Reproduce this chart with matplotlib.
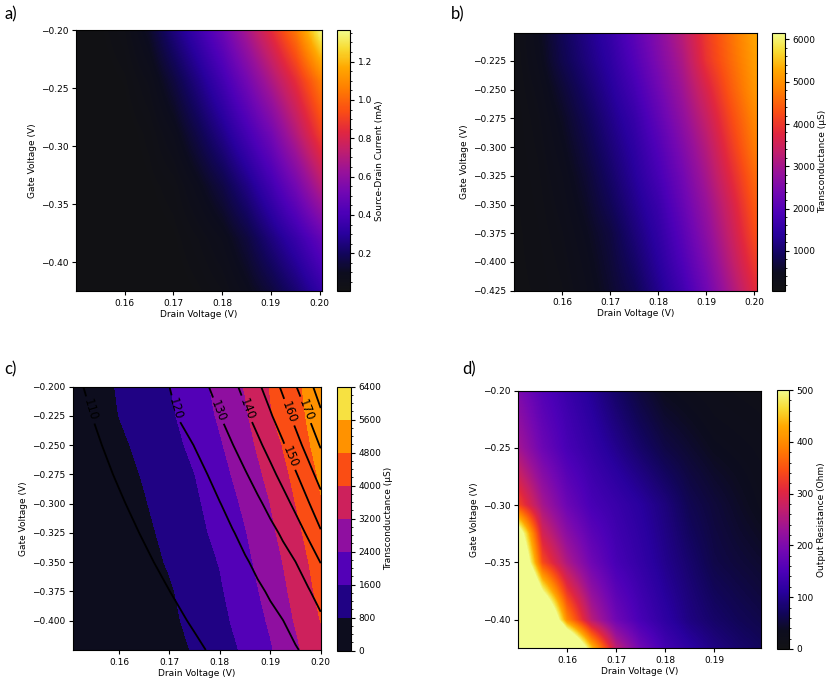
import numpy as np
import matplotlib
matplotlib.use("Agg")
import matplotlib.pyplot as plt
from matplotlib.colors import LinearSegmentedColormap, Normalize

# ---------------- data ----------------
# drain voltage grid (V)
drain = [0.150, 0.155, 0.160, 0.165, 0.170, 0.175, 0.180, 0.185, 0.190, 0.195, 0.200]

# a) source-drain current (mA)
gate_a = [-0.425, -0.380, -0.335, -0.290, -0.245, -0.200]
current_ma = [
    [0.00, 0.00, 0.00, 0.00, 0.000, 0.015, 0.04, 0.09, 0.15, 0.23, 0.33],
    [0.00, 0.00, 0.00, 0.00, 0.010, 0.040, 0.08, 0.15, 0.25, 0.35, 0.47],
    [0.00, 0.00, 0.00, 0.01, 0.030, 0.090, 0.16, 0.26, 0.38, 0.52, 0.70],
    [0.00, 0.00, 0.00, 0.025, 0.080, 0.170, 0.27, 0.39, 0.52, 0.70, 0.90],
    [0.00, 0.00, 0.015, 0.06, 0.150, 0.260, 0.38, 0.52, 0.68, 0.85, 1.05],
    [0.00, 0.01, 0.040, 0.12, 0.250, 0.370, 0.50, 0.67, 0.85, 1.05, 1.35],
]

# b) and c) transconductance (uS)
gate_g = [-0.425, -0.400, -0.375, -0.350, -0.325, -0.300, -0.275, -0.250, -0.225, -0.200]
transcond_us = [
    [100, 130, 210, 370, 600, 850, 1267, 1719, 2316, 3049, 3782],
    [100, 145, 240, 420, 660, 983, 1400, 1901, 2506, 3260, 4015],
    [100, 160, 280, 480, 720, 1112, 1512, 2052, 2686, 3424, 4224],
    [105, 180, 330, 560, 868, 1245, 1634, 2206, 2840, 3576, 4384],
    [110, 200, 380, 640, 989, 1366, 1808, 2356, 3024, 3792, 4555],
    [115, 230, 450, 750, 1105, 1469, 1956, 2533, 3200, 4000, 4755],
    [120, 260, 530, 859, 1226, 1593, 2137, 2730, 3412, 4196, 4900],
    [130, 320, 650, 1000, 1357, 1775, 2323, 2913, 3652, 4400, 5070],
    [140, 400, 807, 1143, 1479, 1951, 2504, 3084, 3944, 4561, 5160],
    [150, 450, 877, 1228, 1579, 2082, 2630, 3248, 4036, 4642, 5250],
]

# c) overlaid contour quantity (labelled lines)
drain_c = [0.150, 0.155, 0.160, 0.165, 0.170, 0.175, 0.1775, 0.180, 0.1825,
           0.185, 0.1875, 0.190, 0.1925, 0.195, 0.1975, 0.200]
gate_c = [-0.425, -0.400, -0.375, -0.350, -0.325, -0.300, -0.275, -0.250, -0.225, -0.200]
contour_vals = [
    [95.61, 98.25, 100.90, 103.54, 106.19, 108.84, 110.16, 111.48, 112.80, 114.13, 115.45, 116.77, 118.10, 119.42, 121.63, 124.53],
    [97.76, 100.37, 102.97, 105.57, 108.18, 110.78, 112.08, 113.39, 114.69, 115.99, 117.29, 118.59, 119.90, 122.61, 125.45, 128.30],
    [99.59, 102.18, 104.77, 107.36, 109.95, 112.54, 113.83, 115.13, 116.42, 117.72, 119.01, 120.67, 123.48, 126.29, 129.10, 133.86],
    [101.29, 103.87, 106.44, 109.02, 111.60, 114.18, 115.46, 116.75, 118.04, 119.33, 121.36, 124.20, 127.05, 129.89, 135.00, 140.21],
    [102.75, 105.34, 107.93, 110.52, 113.11, 115.70, 116.99, 118.29, 119.58, 121.98, 124.88, 127.79, 131.15, 135.96, 141.25, 149.06],
    [104.08, 106.70, 109.32, 111.94, 114.56, 117.17, 118.48, 119.79, 122.53, 125.54, 128.55, 132.32, 136.79, 142.00, 149.14, 156.47],
    [105.32, 107.98, 110.64, 113.30, 115.96, 118.62, 119.95, 123.00, 126.13, 129.25, 133.28, 137.59, 142.75, 149.00, 156.36, 163.82],
    [106.39, 109.13, 111.86, 114.59, 117.32, 120.13, 123.33, 126.54, 129.74, 133.90, 138.14, 143.18, 148.86, 156.25, 163.61, 170.74],
    [107.42, 110.22, 113.03, 115.84, 118.65, 123.38, 126.62, 129.87, 134.07, 138.31, 143.33, 148.89, 155.71, 162.86, 170.00, 178.33],
    [108.30, 111.23, 114.15, 117.08, 120.00, 126.33, 129.49, 133.56, 137.80, 142.67, 148.22, 154.72, 161.82, 169.39, 176.97, 184.55],
]
contour_levels = [110, 120, 130, 140, 150, 160, 170, 180]

# d) output resistance (Ohm)
gate_d = [-0.425, -0.400, -0.375, -0.350, -0.325, -0.300, -0.275, -0.250, -0.225, -0.200]
resist_ohm = [
    [1500, 1100, 700, 450, 267, 188, 140, 115, 94, 80, 70],
    [1000, 700, 400, 260, 186, 145, 117, 93, 78, 68, 60],
    [800, 500, 320, 222, 165, 134, 108, 87, 69, 60, 52],
    [650, 342, 250, 186, 145, 123, 100, 80, 60, 52, 45],
    [560, 290, 215, 166, 137, 117, 95, 72, 56, 46, 38],
    [340, 243, 183, 146, 129, 111, 90, 65, 52, 41, 31],
    [285, 213, 164, 135, 115, 95, 74, 56, 44, 36, 28],
    [240, 183, 145, 123, 100, 78, 58, 46, 35, 30, 25],
    [220, 170, 138, 114, 88, 65, 46, 37, 28, 24, 20],
    [200, 158, 130, 105, 77, 53, 35, 28, 22, 18, 15],
]

# ---------------- style ----------------
cmap = LinearSegmentedColormap.from_list("fet", [
    (0.00, (0.07, 0.07, 0.08)),
    (0.07, (0.05, 0.05, 0.12)),
    (0.14, (0.07, 0.02, 0.36)),
    (0.22, (0.16, 0.00, 0.62)),
    (0.30, (0.30, 0.00, 0.72)),
    (0.38, (0.45, 0.03, 0.70)),
    (0.46, (0.60, 0.07, 0.60)),
    (0.54, (0.76, 0.12, 0.42)),
    (0.61, (0.88, 0.15, 0.25)),
    (0.69, (0.98, 0.30, 0.08)),
    (0.78, (1.00, 0.50, 0.00)),
    (0.86, (1.00, 0.66, 0.00)),
    (0.93, (0.97, 0.86, 0.20)),
    (1.00, (0.95, 0.99, 0.55)),
])

FS = 6.5
plt.rcParams.update({
    "font.family": "DejaVu Sans",
    "font.size": FS,
    "xtick.labelsize": FS,
    "ytick.labelsize": FS,
    "axes.labelsize": FS,
    "axes.linewidth": 0.8,
    "xtick.major.size": 3,
    "ytick.major.size": 3,
    "xtick.major.pad": 2.5,
    "ytick.major.pad": 2.5,
})

W, H = 830, 685
fig = plt.figure(figsize=(W / 100, H / 100), dpi=100)


def rect(l, t, r, b):
    return [l / W, 1 - b / H, (r - l) / W, (b - t) / H]


def show_grid(ax, x, y, z, norm):
    x = np.asarray(x); y = np.asarray(y)
    dx = x[1] - x[0]; dy = y[1] - y[0]
    im = ax.imshow(np.asarray(z, float), origin="lower", aspect="auto",
                   extent=[x[0] - dx / 2, x[-1] + dx / 2, y[0] - dy / 2, y[-1] + dy / 2],
                   cmap=cmap, norm=norm, interpolation="bilinear",
                   interpolation_stage="data")
    return im


def finish(ax, xlim, ylim, yticks, yfmt):
    ax.set_xlim(*xlim)
    ax.set_ylim(*ylim)
    ax.set_yticks(yticks)
    ax.set_yticklabels([("\u2212" + yfmt % abs(v)) for v in yticks])
    ax.set_xlabel("Drain Voltage (V)", labelpad=1.5)
    ax.set_ylabel("Gate Voltage (V)", labelpad=3)


def colorbar(mappable, cax, label, ticks):
    cb = fig.colorbar(mappable, cax=cax)
    cb.set_ticks(ticks)
    cb.ax.minorticks_on()
    cb.ax.tick_params(which="minor", length=1.5)
    cb.ax.tick_params(which="major", length=3, labelsize=FS, pad=2.5)
    cb.set_label(label, fontsize=FS, labelpad=2)
    cb.outline.set_linewidth(0.8)
    return cb


# ---- a ----
ax_a = fig.add_axes(rect(76, 30, 322, 291))
im_a = show_grid(ax_a, drain, gate_a, current_ma, Normalize(0.003, 1.365))
finish(ax_a, (0.150, 0.2005), (-0.425, -0.200),
       [-0.20, -0.25, -0.30, -0.35, -0.40], "%.2f")
ax_a.set_xticks([0.16, 0.17, 0.18, 0.19, 0.20])
cax_a = fig.add_axes(rect(337, 30, 350, 291))
colorbar(im_a, cax_a, "Source-Drain Current (mA)", [0.2, 0.4, 0.6, 0.8, 1.0, 1.2])

# ---- b ----
ax_b = fig.add_axes(rect(514, 32.7, 756.7, 290.7))
im_b = show_grid(ax_b, drain, gate_g, transcond_us, Normalize(50, 6160))
finish(ax_b, (0.150, 0.2005), (-0.425, -0.2005),
       [-0.225, -0.250, -0.275, -0.300, -0.325, -0.350, -0.375, -0.400, -0.425], "%.3f")
ax_b.set_xticks([0.16, 0.17, 0.18, 0.19, 0.20])
cax_b = fig.add_axes(rect(772, 32.7, 785, 291))
colorbar(im_b, cax_b, "Transconductance (\u00b5S)", [1000, 2000, 3000, 4000, 5000, 6000])

# ---- c ----
ax_c = fig.add_axes(rect(72.7, 386.7, 320.7, 650))
levels_c = [0, 800, 1600, 2400, 3200, 4000, 4800, 5600, 6400]
cf = ax_c.contourf(drain, gate_g, transcond_us, levels=levels_c, cmap=cmap)
cs = ax_c.contour(drain_c, gate_c, contour_vals, levels=contour_levels,
                  colors="black", linewidths=1.3)
label_pos = [(0.1542, -0.220), (0.1717, -0.2185), (0.1800, -0.220), (0.1856, -0.2185),
             (0.1939, -0.2598), (0.1940, -0.2214), (0.1969, -0.220)]
ax_c.clabel(cs, levels=contour_levels[:-1], manual=label_pos, fontsize=8.5,
            inline=True, inline_spacing=3, fmt="%d")
finish(ax_c, (0.1508, 0.200), (-0.425, -0.200),
       [-0.200, -0.225, -0.250, -0.275, -0.300, -0.325, -0.350, -0.375, -0.400], "%.3f")
ax_c.set_xticks([0.16, 0.17, 0.18, 0.19, 0.20])
cax_c = fig.add_axes(rect(336.7, 386.7, 351, 650.7))
colorbar(cf, cax_c, "Transconductance (\u00b5S)", levels_c)

# ---- d ----
ax_d = fig.add_axes(rect(518.3, 390.7, 760.7, 648.3))
im_d = show_grid(ax_d, drain, gate_d, resist_ohm, Normalize(0, 500))
finish(ax_d, (0.150, 0.1995), (-0.425, -0.200),
       [-0.20, -0.25, -0.30, -0.35, -0.40], "%.2f")
ax_d.set_xticks([0.16, 0.17, 0.18, 0.19])
cax_d = fig.add_axes(rect(776.7, 390, 789, 649))
colorbar(im_d, cax_d, "Output Resistance (Ohm)", [0, 100, 200, 300, 400, 500])

# panel letters
for s, (px, py) in zip(["a)", "b)", "c)", "d)"], [(4, 6), (451, 6), (4, 361), (462, 361)]):
    fig.text(px / W, 1 - py / H, s, fontsize=12, family=["Lato", "DejaVu Sans"],
             ha="left", va="top")

fig.savefig("out.png", dpi=100)
